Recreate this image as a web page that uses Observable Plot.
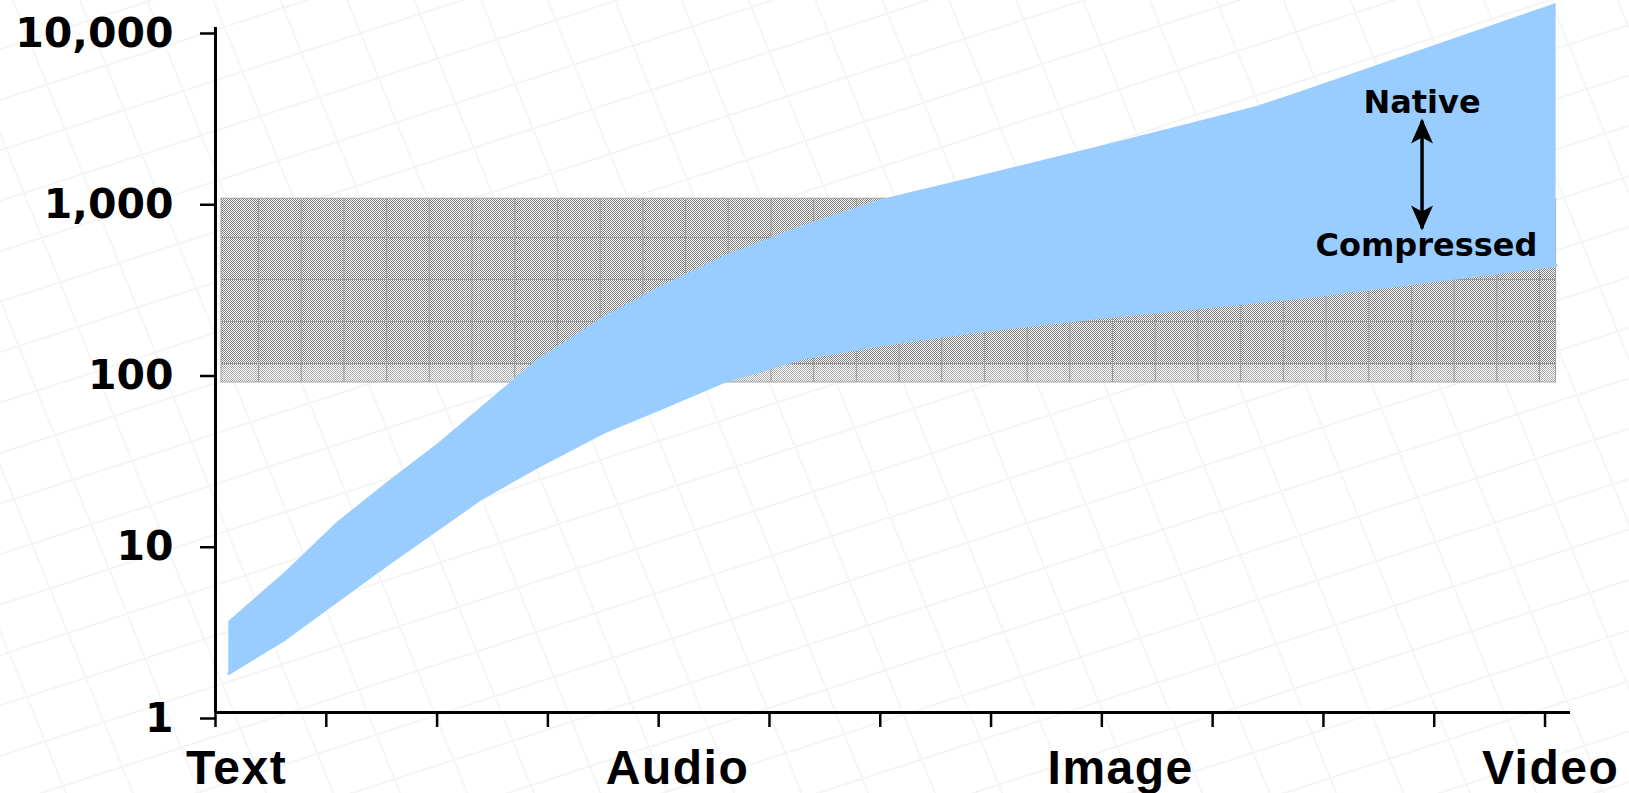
<!DOCTYPE html>
<html>
<head>
<meta charset="utf-8">
<script src="https://cdn.jsdelivr.net/npm/d3@7"></script>
<script src="https://cdn.jsdelivr.net/npm/@observablehq/plot@0.6"></script>
<style>
  html, body { margin: 0; padding: 0; overflow: hidden; background: #ffffff; }
  body {
    width: 1629px; height: 793px;
    background-image:
      repeating-linear-gradient(162deg, rgba(0,0,0,0) 0px, rgba(0,0,0,0) 46px, #f5f5f5 46px, #f5f5f5 48px),
      repeating-linear-gradient(68deg, rgba(0,0,0,0) 0px, rgba(0,0,0,0) 60px, #f6f6f6 60px, #f6f6f6 62px);
  }
  #chart svg { display: block; background: transparent; }
  .catlabels text { letter-spacing: 1.5px; }
</style>
</head>
<body>
<svg width="0" height="0" style="position:absolute">
  <defs>
    <pattern id="checkerDark" patternUnits="userSpaceOnUse" width="2" height="2">
      <rect x="0" y="0" width="2" height="2" fill="#ffffff"/>
      <rect x="0" y="0" width="1" height="1" fill="#7f7f7f" shape-rendering="crispEdges"/>
      <rect x="1" y="1" width="1" height="1" fill="#7f7f7f" shape-rendering="crispEdges"/>
    </pattern>
    <pattern id="checkerLight" patternUnits="userSpaceOnUse" width="2" height="2">
      <rect x="0" y="0" width="2" height="2" fill="#ffffff"/>
      <rect x="0" y="0" width="1" height="1" fill="#a8a8a8" shape-rendering="crispEdges"/>
      <rect x="1" y="1" width="1" height="1" fill="#a8a8a8" shape-rendering="crispEdges"/>
    </pattern>
    <pattern id="gridLines" patternUnits="userSpaceOnUse" x="215.3" y="195" width="42.7" height="42">
      <line x1="0.5" y1="0" x2="0.5" y2="42" stroke="#999999" stroke-width="1.2"/>
      <line x1="0" y1="0.5" x2="42.7" y2="0.5" stroke="#999999" stroke-width="1.2"/>
    </pattern>
  </defs>
</svg>
<div id="chart"></div>
<script>
// ---- data ----
// position along the Text → Video axis (one unit per axis tick)
const positions  = [0.12, 0.63, 1.1, 1.55, 2.0, 2.4, 2.9, 3.5, 4.0, 4.6, 5.3, 6.0, 6.9, 8.0, 8.9, 9.4, 9.8, 12.1];
// upper edge of the band ("Native")
const native     = [3.4, 6.6, 12.9, 22, 36.7, 60.5, 114, 203, 303, 466, 695, 984, 1360, 2030, 2850, 3460, 4220, 13800];
// lower edge of the band ("Compressed")
const compressed = [1.69, 2.69, 4.49, 7.31, 11.7, 17.8, 27.1, 43.2, 59, 86.1, 117, 140, 169, 203, 232, 250, 265, 408];

// category labels and where they sit on the axis
const categories   = ["Text", "Audio", "Image", "Video"];
const categoryPos  = [0.19, 4.17, 8.17, 12.05];

// y tick values
const yTicks = [1, 10, 100, 1000, 10000];
// x tick values
const xTicks = [0, 1, 2, 3, 4, 5, 6, 7, 8, 9, 10, 11, 12];

// shaded reference range (dark part and light lower strip)
const rangeSpan   = [0.054, 12.1];
const rangeDark   = [106, 1000];
const rangeLight  = [84.6, 106];

// annotation
const annoLabels = ["Native", "Compressed"];
const annoX      = [10.89, 10.93];
const annoY      = [3659, 535];
const arrowX     = 10.89;
const arrowEnds  = [2942, 652];

// ---- build ----
const band = positions.map((p, i) => ({p, native: native[i], compressed: compressed[i]}));
const cats = categories.map((c, i) => ({c, x: categoryPos[i]}));
const annos = annoLabels.map((t, i) => ({t, x: annoX[i], y: annoY[i]}));

const arrowHead = {
  draw(context) {
    // tip at origin, pointing up
    context.moveTo(0, 0);
    context.lineTo(-11, 25);
    context.lineTo(0, 19);
    context.lineTo(11, 25);
    context.closePath();
  }
};

const chart = Plot.plot({
  width: 1629,
  height: 793,
  marginLeft: 215,
  marginRight: 59,
  marginTop: 27,
  marginBottom: 81,
  style: {background: "transparent", color: "black"},
  x: {type: "linear", domain: [0, 12.23]},
  y: {type: "log", domain: [1, 10000]},
  marks: [
    // shaded range
    Plot.rect([0], {x1: rangeSpan[0], x2: rangeSpan[1], y1: rangeDark[0], y2: rangeDark[1], fill: "url(#checkerDark)"}),
    Plot.rect([0], {x1: rangeSpan[0], x2: rangeSpan[1], y1: rangeLight[0], y2: rangeLight[1], fill: "url(#checkerLight)"}),
    Plot.rect([0], {x1: rangeSpan[0], x2: rangeSpan[1], y1: rangeLight[0], y2: rangeDark[1], fill: "url(#gridLines)", stroke: "#a0a0a0", strokeWidth: 1}),
    // band
    Plot.areaY(band, {x: "p", y1: "compressed", y2: "native", fill: "#99ccff", curve: "linear"}),
    Plot.lineY(band, {x: "p", y: "compressed", stroke: "#99ccff", strokeWidth: 3, strokeLinecap: "round"}),
    // axes
    Plot.axisY({ticks: yTicks, tickFormat: d3.format(","), tickSize: 15, tickPadding: 27, strokeWidth: 2.5,
      fontSize: 41, fontWeight: "bold", fontFamily: "DejaVu Sans", dy: 6, label: null, fill: "black"}),
    Plot.axisX({ticks: xTicks, tickFormat: () => "", tickSize: 15, strokeWidth: 2.5, label: null}),
    Plot.ruleX([0], {y1: 1, y2: 10000, strokeWidth: 3, stroke: "black"}),
    Plot.ruleY([1], {x1: 0, x2: 12.23, strokeWidth: 3, stroke: "black"}),
    // category labels
    Plot.text(cats, {x: "x", text: "c", frameAnchor: "bottom", lineAnchor: "middle", dy: 56, className: "catlabels",
      fontSize: 48, fontWeight: "bold", fontFamily: "Liberation Sans, Arial, sans-serif", fill: "black"}),
    // annotation
    Plot.text(annos, {x: "x", y: "y", text: "t", lineAnchor: "middle",
      fontSize: 32, fontWeight: "bold", fontFamily: "DejaVu Sans", fill: "black"}),
    Plot.link([0], {x1: arrowX, x2: arrowX, y1: arrowEnds[0] * 0.97, y2: arrowEnds[1] * 1.03, stroke: "black", strokeWidth: 3.5}),
    Plot.dot(arrowEnds, {x: () => arrowX, y: d => d, symbol: arrowHead, fill: "black", stroke: null,
      rotate: (d, i) => i === 0 ? 0 : 180, r: 5})
  ]
});
document.getElementById("chart").appendChild(chart);
</script>
</body>
</html>
